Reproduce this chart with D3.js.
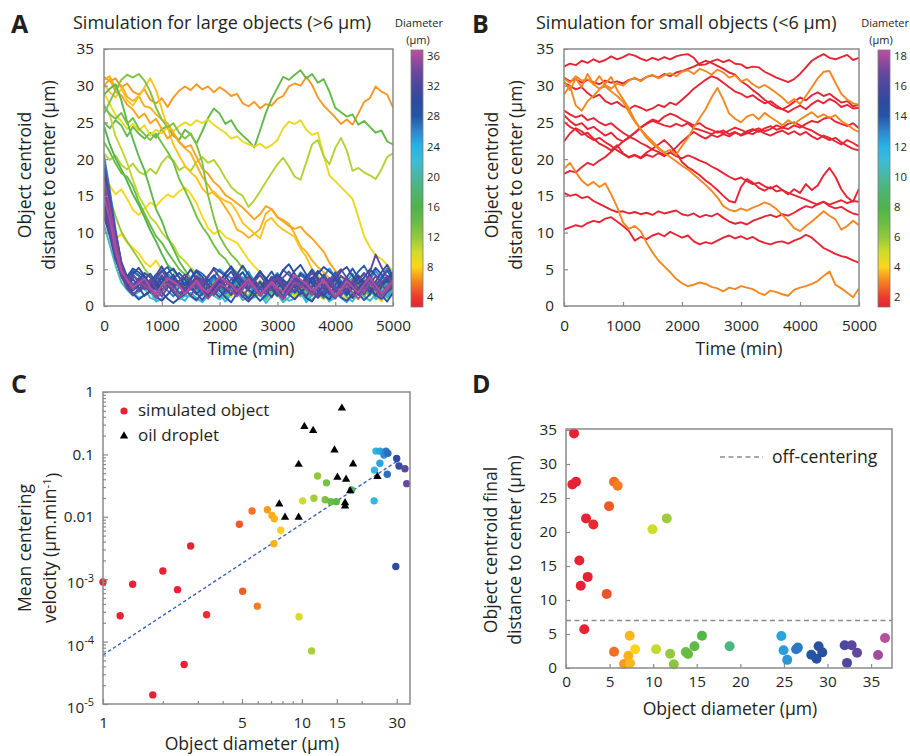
<!DOCTYPE html>
<html>
<head>
<meta charset="utf-8">
<script src="https://cdn.jsdelivr.net/npm/d3@7/dist/d3.min.js"></script>
<style>
html,body{margin:0;padding:0;background:#fff;}
svg{display:block;}
</style>
</head>
<body>
<svg id="chart" width="910" height="756" xmlns="http://www.w3.org/2000/svg"></svg>
<script>
// ================= DATA =================
const timeMin = d3.range(0, 5001, 100);
const timeTicks = [0, 1000, 2000, 3000, 4000, 5000];
const distTicks = [0, 5, 10, 15, 20, 25, 30, 35];
const cbarTicksA = [4, 8, 12, 16, 20, 24, 28, 32, 36];
const cbarTicksB = [2, 4, 6, 8, 10, 12, 14, 16, 18];

// ---- Panel A: large objects (distance to center, µm, every 100 min) ----
const largeA1 = [31.2,30.6,31.0,29.8,30.3,29.2,28.8,29.5,28.1,27.6, 28.3,27.1,28.4,29.3,29.9,29.4,30.2,29.5,29.9,29.1, 29.8,29.3,28.6,28.9,27.6,27.2,27.8,26.9,27.5,27.3, 28.2,28.6,29.9,30.3,30.0,31.2,30.1,28.4,27.3,26.5, 25.7,24.8,25.4,24.7,26.2,27.8,28.3,29.9,29.2,28.8, 27.0];
const largeA2 = [25.0,24.2,25.3,24.6,23.1,24.4,23.5,22.8,23.6,22.9, 24.1,24.5,23.2,22.6,24.0,23.4,22.1,23.8,25.6,26.9, 26.2,24.8,25.3,24.0,23.2,22.5,21.6,23.9,26.3,28.2, 29.7,31.2,30.8,31.5,32.1,31.0,31.6,30.4,30.9,29.2, 27.0,26.4,25.8,26.1,24.7,25.2,24.4,23.6,23.9,22.4, 22.0];
const largeA3 = [29.0,27.5,26.0,25.2,24.1,24.8,23.9,24.6,23.2,24.0, 23.5,24.4,23.8,24.5,25.0,24.6,25.3,24.9,25.4,24.7, 24.1,23.6,22.8,23.1,22.4,22.0,21.7,22.1,21.5,21.9, 22.6,24.2,25.1,24.8,25.3,24.0,23.3,23.6,20.5,17.8, 17.0,16.2,15.4,14.6,12.1,9.5,8.0,6.9,6.4,5.6, 4.7];
const largeA4 = [20.8,19.9,20.5,19.2,18.6,19.4,18.3,17.9,18.7,18.0, 19.5,20.4,19.8,18.5,19.0,18.4,19.6,20.3,19.5,19.9, 18.8,17.4,16.2,15.5,15.0,13.5,14.4,15.6,16.9,18.1, 19.3,20.2,19.0,17.6,17.2,19.6,22.0,22.6,20.4,19.3, 21.5,22.9,21.2,18.4,18.8,18.2,17.8,17.3,18.6,20.3, 20.8];
const largeA5 = [30.8,31.3,29.6,30.1,28.5,27.9,28.6,27.2,27.0,26.1, 25.4,24.9,23.6,22.3,21.5,20.8,19.2,17.6,16.5,15.3, 14.6,13.4,12.2,10.4,10.0,9.3,9.8,10.5,12.6,13.2, 12.1,11.7,11.2,9.8,8.1,7.4,6.2,5.3,4.6,3.8, 2.9,3.5,2.4,3.1,1.8,2.6,3.3,2.1,2.9,1.5, 2.3];
const largeA6 = [30.2,29.1,28.4,29.6,28.0,27.3,28.5,29.8,31.0,29.4, 26.8,24.3,22.0,20.5,19.1,18.2,17.5,16.0,15.2,15.6, 14.8,14.3,14.0,12.8,11.3,10.6,9.9,9.2,11.5,12.0, 11.0,10.4,9.9,9.4,7.8,6.7,5.0,4.2,3.1,3.8, 2.5,1.9,2.8,3.4,2.2,1.6,2.7,3.5,2.4,3.0, 2.0];
const largeA7 = [30.0,30.9,29.2,28.7,27.4,26.8,25.6,26.2,24.9,25.5, 24.1,22.8,23.5,22.4,21.6,21.9,20.3,18.7,18.0,16.9, 16.2,15.1,14.6,14.0,13.4,12.6,11.8,12.5,13.6,13.2, 12.1,11.5,10.9,10.5,10.8,9.9,9.2,8.3,7.4,5.9, 4.8,4.1,3.0,2.4,3.2,2.1,1.4,2.5,3.1,2.2, 1.7];
const largeA8 = [17.5,16.4,15.2,15.9,14.6,13.1,12.4,13.3,14.1,13.6, 14.5,15.2,14.8,15.6,16.1,15.3,14.0,12.2,10.6,9.8, 10.3,9.4,9.0,8.6,7.5,6.3,5.4,4.6,3.8,2.7, 3.4,1.9,2.6,1.2,2.0,3.1,2.4,1.5,0.9,1.8, 2.7,1.6,0.8,1.9,2.8,1.3,0.7,1.6,2.4,1.1, 1.8];
const largeA9 = [12.5,10.3,9.1,9.8,8.6,7.9,7.2,6.0,5.3,6.2, 4.9,4.1,3.2,2.5,3.6,2.8,1.9,2.6,1.4,2.2, 3.1,2.0,1.2,2.4,3.3,2.5,1.6,2.3,0.8,1.5, 2.6,3.4,2.1,1.3,2.2,1.0,1.7,2.5,3.3,2.0, 1.1,2.3,3.0,1.8,0.9,1.7,2.6,1.4,0.6,1.5, 2.2];
const largeA10 = [27.5,26.0,23.1,21.4,19.5,17.2,15.0,13.6,12.1,11.3, 10.0,9.1,8.3,6.8,6.1,5.2,4.4,3.6,2.8,3.5, 2.3,1.6,2.7,3.4,2.1,1.3,2.2,3.0,1.9,1.2, 2.5,3.2,2.4,1.5,2.8,3.6,2.2,1.4,2.1,3.0, 2.2,1.3,2.4,3.3,2.6,1.7,2.5,3.4,2.0,1.2, 2.6];
const largeA11 = [26.2,27.8,29.4,30.8,31.5,31.1,31.6,30.7,29.2,27.0, 25.4,24.3,24.9,23.6,22.8,23.5,22.0,19.6,15.1,12.0, 9.5,8.1,7.0,6.2,5.1,4.4,3.6,2.5,3.2,2.0, 1.3,2.4,3.1,1.8,2.6,1.5,0.8,1.9,2.7,1.6, 2.3,3.5,2.2,1.1,1.8,2.9,3.7,2.4,1.3,2.1, 3.2];
const largeA12 = [28.8,29.6,30.2,28.0,25.1,22.7,20.4,18.5,15.9,13.2, 11.6,9.4,7.8,6.1,4.9,3.7,2.6,3.3,2.1,1.4, 2.5,3.4,2.2,1.6,2.8,3.9,2.7,1.8,1.0,2.2, 3.0,2.3,1.5,2.6,3.5,2.4,1.6,2.8,1.9,1.1, 2.4,3.2,1.8,2.7,3.6,2.3,1.5,2.6,3.4,2.5, 1.7];
const largeA13 = [24.5,22.0,20.1,18.6,17.0,15.2,13.8,12.1,10.3,8.8, 7.1,5.6,4.8,3.9,3.0,2.2,3.1,1.9,2.6,3.5, 2.4,1.5,2.3,3.2,2.0,1.1,1.9,2.8,3.6,2.5, 1.7,2.6,1.4,2.2,3.1,2.0,2.9,3.7,2.5,1.6, 2.7,1.8,2.9,3.8,2.6,1.9,2.8,1.6,2.5,3.3, 2.4];
const largeA14 = [22.3,21.0,19.4,18.1,17.6,16.3,14.2,12.6,11.0,9.5, 8.6,7.3,6.2,5.0,4.3,3.5,2.6,3.3,2.2,1.5, 2.7,3.6,2.5,1.7,2.9,2.0,1.2,2.4,3.1,2.2, 1.4,2.6,3.4,2.1,1.3,2.5,3.3,2.4,1.5,2.6, 3.5,2.3,1.6,2.8,1.9,3.0,2.2,1.3,2.4,3.1, 2.0];
const largeA15 = [27.2,26.1,25.5,26.3,24.8,25.6,24.2,23.4,22.6,23.5, 22.2,21.0,19.6,17.3,15.8,14.1,12.2,10.8,9.7,8.3, 7.1,6.4,5.2,4.6,3.8,2.9,3.5,2.3,1.6,2.8, 3.6,2.5,1.8,2.9,2.1,3.2,2.4,1.5,2.6,3.5, 2.3,1.4,2.5,3.4,2.2,1.3,2.4,3.3,2.6,1.8, 2.9];
const largeA16 = [17.0,14.8,12.2,10.1,8.8,7.6,6.4,5.1,4.0,3.2, 2.5,3.3,2.1,1.4,2.6,3.4,2.3,1.5,2.4,3.2, 2.1,1.3,2.5,3.1,2.0,1.4,2.6,3.5,2.3,1.5, 2.7,1.9,2.8,3.6,2.4,1.6,2.5,3.3,2.1,1.2, 2.3,3.1,2.0,1.4,2.6,3.4,2.2,1.5,2.7,3.5, 2.3];
const largeF1 = [13.5,10.4,7.1,4.3,3.1,2.9,3.6,2.2,2.5,1.5, 2.8,3.4,3.1,1.9,1.3,2.5,3.9,3.2,2.6,1.9, 2.2,1.1,1.7,3.0,3.5,2.4,2.7,1.6,1.2,2.9, 3.3,2.0,2.4,3.6,2.6,1.7,1.4,2.2,3.4,2.8, 3.0,1.8,2.4,1.6,2.3,3.7,3.1,1.3,2.0,3.4, 2.2];
const largeF2 = [11.0,8.3,5.5,3.2,2.2,1.4,1.9,2.5,1.1,0.8, 1.9,2.7,2.2,0.9,1.4,1.3,0.7,2.1,2.6,1.4, 0.9,1.5,2.4,1.9,0.8,1.2,2.8,1.6,0.9,2.0, 1.6,0.5,1.2,2.5,1.7,0.8,1.9,2.7,2.1,0.7, 1.1,2.3,1.2,0.6,1.8,2.2,2.6,0.9,1.5,1.2, 1.9];
const largeF3 = [16.2,12.8,8.4,4.6,2.6,1.8,1.1,1.4,2.0,0.6, 1.0,1.5,2.4,1.2,0.7,1.8,1.1,0.5,1.4,2.2, 1.6,0.6,1.7,2.5,1.3,0.8,1.2,1.6,0.4,1.3, 2.1,1.4,0.7,1.0,1.9,0.5,1.5,2.3,1.7,0.6, 1.8,1.1,0.5,1.4,2.2,1.3,0.7,1.6,0.9,1.8, 1.4];
const largeF4 = [19.5,15.4,10.2,5.6,3.8,2.9,3.3,3.9,2.6,1.8, 3.0,4.1,3.6,2.7,1.9,3.2,2.3,1.4,2.6,3.7, 3.1,2.5,1.6,2.8,3.9,2.9,1.8,2.5,2.2,3.6, 2.4,1.5,2.7,3.8,3.3,2.6,1.7,2.9,2.0,1.3, 2.5,3.4,2.3,2.8,3.9,2.7,1.8,3.0,2.1,1.2, 2.7];
const largeF5 = [14.8,11.6,7.9,5.0,3.4,4.6,4.1,3.5,2.4,3.8, 4.9,4.4,3.6,2.5,3.1,3.7,4.8,3.4,2.6,3.9, 5.0,4.3,3.8,2.7,3.5,4.7,3.3,2.2,2.9,3.6, 4.5,3.2,2.3,3.4,4.6,4.0,3.7,2.8,4.0,5.1, 3.9,2.6,3.3,4.4,3.1,2.2,3.5,4.8,3.6,2.5, 3.8];
const largeF6 = [20.5,15.8,10.4,5.9,3.6,3.1,2.0,2.6,3.2,4.3, 3.0,2.1,1.3,2.6,3.8,3.3,2.7,1.6,2.9,4.0, 2.8,1.7,2.5,3.7,4.6,3.3,2.2,1.5,2.1,2.8, 3.9,2.6,1.8,3.1,4.2,3.6,3.0,1.9,1.1,2.4, 3.5,2.3,1.4,2.7,3.8,2.9,1.7,2.6,3.9,5.1, 3.7];
const largeF7 = [17.8,13.9,9.3,5.4,3.6,4.8,4.2,3.4,2.3,3.5, 4.7,5.3,3.9,2.7,3.2,3.8,4.9,4.4,3.6,2.5, 3.3,4.5,5.2,3.8,2.6,3.1,3.7,4.8,3.5,2.4, 3.6,4.9,4.2,3.7,2.6,3.9,5.0,3.8,2.8,3.5, 4.6,3.3,2.1,3.4,4.7,5.5,4.1,2.9,3.7,4.8, 3.6];
const largeF8 = [13.8,10.6,7.0,4.5,3.2,2.1,2.8,3.6,4.4,3.3, 2.2,2.9,3.7,4.5,3.6,2.4,1.6,2.5,3.4,4.2, 3.2,2.1,2.8,3.9,4.6,3.4,2.5,1.7,2.6,3.5, 4.3,3.6,2.7,1.8,2.9,4.0,4.8,3.5,2.4,3.1, 3.8,2.6,1.5,2.4,3.6,4.5,3.3,2.2,3.0,4.1, 3.2];
const largeF9 = [15.5,12.0,7.8,4.4,2.8,1.7,0.9,1.5,2.0,3.1, 1.9,1.0,0.4,1.1,1.6,2.7,1.8,0.8,1.9,3.0, 2.1,1.2,0.5,1.7,2.8,2.2,1.6,0.7,1.5,2.6, 1.8,0.9,2.0,3.2,2.2,1.1,0.6,1.8,2.9,1.9, 1.0,2.1,3.0,2.4,1.7,0.8,1.6,2.7,1.5,0.6, 1.8];
const largeF10 = [18.8,14.6,9.9,6.0,4.0,5.1,4.6,3.9,2.8,4.2, 5.4,4.0,2.9,3.4,3.8,5.0,3.7,2.5,3.9,5.2, 4.7,4.1,3.0,4.3,5.5,4.2,3.1,2.4,3.6,4.7, 3.4,2.3,3.5,4.8,5.6,4.3,3.1,4.4,5.3,4.7, 4.0,2.8,3.9,5.1,3.8,2.7,4.0,5.2,4.3,3.2, 4.5];
const largeF11 = [12.2,9.5,6.3,4.3,2.6,3.7,2.5,1.4,2.0,2.6, 3.8,2.9,1.8,1.1,2.3,3.4,2.8,2.2,1.3,2.5, 3.6,2.4,1.5,2.7,1.8,1.0,2.2,3.3,2.1,1.2, 2.4,3.5,3.0,2.6,1.6,2.8,3.9,2.7,1.5,0.9, 2.1,3.2,2.0,1.1,2.3,3.4,2.5,1.4,2.6,3.7, 2.4];
const largeF12 = [17.5,13.6,9.0,5.3,3.4,4.4,5.2,4.1,3.0,2.2, 3.3,4.5,5.1,3.9,2.8,3.6,4.7,4.0,2.9,2.1, 3.2,4.4,5.4,4.2,3.1,2.3,3.5,4.6,3.8,2.7, 3.4,4.9,5.7,4.4,3.2,2.5,3.7,4.8,3.9,2.8, 3.6,4.7,5.3,4.1,3.0,3.9,5.0,4.2,3.1,3.8, 4.6];
const largeF13 = [16.8,13.1,8.7,5.2,3.3,2.2,3.4,4.5,3.9,3.2, 2.0,3.1,4.3,3.0,1.9,2.8,4.0,3.5,2.9,1.7, 2.6,3.8,4.7,3.4,2.3,3.5,2.4,1.6,2.2,2.9, 4.1,3.1,2.0,3.2,4.4,3.8,3.3,2.1,1.4,2.7, 3.9,2.8,1.8,3.0,4.2,3.0,1.9,3.3,4.6,5.6, 4.0];
const largeF14 = [12.8,9.9,6.6,4.0,2.4,1.5,2.3,3.1,2.2,1.3, 0.7,1.6,2.5,3.3,2.4,1.4,0.8,1.7,2.6,1.9, 1.2,2.1,3.0,2.2,1.3,0.6,1.5,2.4,3.2,2.3, 1.4,2.2,1.6,0.9,1.8,2.7,2.0,1.1,2.0,2.9, 2.1,1.2,0.7,1.6,2.5,3.4,2.4,1.5,1.0,1.9, 2.6];
const largeF15 = [14.0,10.9,7.2,4.6,3.0,4.1,3.5,2.9,1.8,3.0, 4.2,3.1,2.0,1.2,1.8,2.4,3.6,2.5,1.5,2.7, 3.9,3.3,2.8,1.6,2.5,3.7,2.6,1.4,2.8,4.0, 3.4,2.9,1.7,3.0,2.2,1.3,2.6,3.8,2.7,1.6, 2.9,4.1,3.5,3.0,1.8,2.7,3.9,2.8,1.7,2.6, 3.8];
const largeF16 = [19.0,14.9,9.8,5.7,3.9,2.7,3.8,3.1,2.6,1.5, 2.7,3.9,2.8,1.7,2.3,3.0,4.1,2.9,1.8,2.6, 3.7,2.5,1.6,2.2,2.9,4.0,2.8,1.7,2.5,3.6, 2.4,1.3,2.6,3.8,3.2,2.7,1.9,3.1,4.3,3.2, 2.0,2.8,3.9,2.6,1.5,2.7,4.6,7.0,5.3,3.9, 3.4];
const largeF17 = [16.0,12.4,8.2,4.9,3.5,4.3,3.2,2.3,3.1,4.0, 4.8,3.7,2.6,3.4,4.3,3.3,2.4,3.2,4.1,5.0, 3.9,2.8,3.6,4.4,3.5,2.5,3.3,4.2,3.1,2.2, 3.0,3.9,4.7,3.6,2.6,3.5,4.5,3.4,2.5,3.3, 4.2,5.0,3.8,2.7,3.5,4.4,3.3,2.4,3.2,4.0, 3.1];
const largeF18 = [13.2,10.3,6.8,4.1,2.5,1.6,2.2,2.7,3.6,2.4, 1.3,2.5,3.4,2.9,2.3,1.4,2.6,3.7,2.6,1.5, 2.4,3.5,3.0,2.3,1.2,2.5,3.6,2.4,1.6,2.8, 3.9,2.7,1.8,2.2,2.6,3.5,2.2,1.4,2.7,3.8, 2.6,1.5,2.3,3.4,2.4,1.6,2.9,4.1,3.0,2.0, 2.9];
const largeF19 = [17.2,13.4,8.8,5.1,3.4,2.3,3.3,2.8,2.2,1.1, 2.0,3.1,2.2,1.2,1.8,2.4,3.2,2.0,1.0,1.9, 3.0,2.6,2.1,1.3,2.3,3.3,2.4,1.4,2.2,3.1, 1.9,0.9,2.1,3.2,2.7,2.3,1.5,2.6,3.4,2.2, 1.1,2.0,2.9,1.8,1.0,2.2,3.2,2.1,1.2,2.4, 3.3];
const largeF20 = [15.0,11.8,7.6,4.7,3.6,2.6,3.1,3.7,2.5,1.6, 2.8,3.8,3.3,2.7,1.7,2.6,3.5,2.4,1.8,3.0, 4.0,3.4,2.9,2.0,2.8,3.7,2.6,1.5,2.4,3.3, 2.5,1.9,3.1,4.2,3.6,3.0,2.1,2.7,3.6,2.5, 1.4,2.3,3.4,2.6,1.8,2.9,3.9,2.8,1.7,2.5, 3.5];
const largeSeries = [largeA1,largeA2,largeA3,largeA4,largeA5,largeA6,largeA7,largeA8,largeA9,largeA10,largeA11,largeA12,largeA13,largeA14,largeA15,largeA16,
  largeF1,largeF2,largeF3,largeF4,largeF5,largeF6,largeF7,largeF8,largeF9,largeF10,largeF11,largeF12,largeF13,largeF14,largeF15,largeF16,largeF17,largeF18,largeF19,largeF20];
const largeDiam = [6.6,14.5,8.8,11,7.2,7.6,6.9,8.2,8.0,10.5,13,15,16,14,13.5,12,
  19,21,23,24.5,25.5,26.5,27.5,28,28.5,29,29.5,30,31,31.5,32,33,33.5,34,35.5,36.5];

// ---- Panel B: small objects ----
const smallR1 = [32.6,33.0,32.8,33.4,33.1,33.6,33.2,33.5,34.0,33.6, 33.9,34.3,34.1,33.7,33.4,33.8,33.5,33.9,33.6,34.0, 34.2,34.3,33.8,32.8,32.9,33.3,33.6,33.2,33.5,33.0, 32.9,32.4,32.6,32.5,31.9,31.5,31.1,30.8,30.5,30.9, 31.6,32.5,33.4,33.9,34.3,33.8,33.6,33.9,34.2,33.5, 33.8];
const smallR2 = [31.1,30.6,30.9,30.4,30.8,30.5,30.2,30.7,30.4,30.6, 30.3,30.8,31.0,30.7,31.2,31.4,31.1,31.6,31.3,31.8, 32.0,32.3,32.6,33.0,33.4,33.1,32.7,32.3,31.8,31.5, 30.6,30.1,29.4,28.8,28.1,27.5,27.0,26.8,26.4,26.9, 27.3,26.8,27.5,28.0,27.6,28.2,27.8,27.1,27.4,26.9, 27.0];
const smallR3 = [30.4,30.0,29.5,29.8,29.0,28.4,28.8,27.9,27.5,27.8, 27.2,26.8,27.3,27.0,26.6,26.9,27.4,27.1,27.7,27.4, 28.1,28.8,29.6,30.2,30.8,31.3,31.0,30.4,29.8,29.2, 28.9,28.4,28.7,28.1,27.6,27.9,27.3,26.8,27.2,27.8, 28.4,28.0,28.7,29.1,28.6,28.9,28.3,27.7,27.9,27.2, 27.4];
const smallR4 = [26.0,25.2,24.6,24.9,24.1,24.4,23.8,23.2,23.6,22.8, 22.4,22.9,23.6,24.3,24.9,25.4,25.1,25.8,26.2,25.9, 25.4,25.0,24.6,24.9,24.3,24.0,23.6,23.9,23.4,23.7, 23.2,23.5,23.9,24.2,23.8,24.1,24.6,24.3,24.8,25.0, 24.6,24.2,23.9,23.4,23.0,22.6,22.9,22.3,21.8,21.4, 21.2];
const smallR5 = [25.1,24.4,24.0,23.3,23.6,22.8,22.1,21.7,21.2,21.9, 20.8,20.3,20.6,20.2,20.9,21.4,22.0,22.6,21.8,20.9, 19.6,18.9,18.4,17.8,17.1,16.5,15.8,15.0,14.3,14.1, 16.2,17.3,16.8,16.1,15.7,16.2,15.6,15.8,15.2,15.9, 15.4,16.6,15.8,16.4,17.8,18.8,17.6,15.9,14.8,14.2, 16.0];
const smallR6 = [22.4,23.5,24.2,23.8,23.1,22.6,22.9,22.3,21.8,21.2, 20.7,20.2,20.5,20.1,20.6,20.3,20.8,20.4,20.9,21.6, 22.4,23.1,23.7,23.2,22.8,23.3,23.0,23.4,23.1,23.6, 23.3,23.8,24.1,23.7,24.2,24.5,24.0,24.3,24.1,24.6, 24.3,24.8,25.2,25.0,25.5,25.7,25.1,24.8,24.5,24.9, 24.2];
const smallR7 = [18.0,18.4,18.2,18.9,19.5,19.2,19.8,20.3,21.0,21.7, 22.4,23.0,23.6,24.3,24.8,25.2,24.9,24.6,24.4,24.8, 24.5,24.9,24.2,24.0,23.7,23.4,23.8,23.5,23.9,24.3, 24.0,23.6,23.4,23.9,23.5,23.2,23.6,23.9,23.4,23.8, 23.3,23.7,23.1,22.7,23.2,22.9,22.4,22.0,22.6,22.2, 21.7];
const smallR8 = [26.6,26.1,25.7,26.0,25.3,25.6,25.0,24.6,24.9,24.2, 23.6,23.1,22.7,22.2,21.8,21.3,21.0,20.6,20.9,20.4, 20.1,20.5,20.2,19.8,19.5,19.0,18.6,18.1,17.6,17.2, 17.5,17.0,16.6,16.8,16.3,16.0,16.4,15.8,15.4,15.1, 14.8,14.5,14.1,13.8,14.2,13.6,13.3,13.5,13.0,12.6, 12.4];
const smallR9 = [15.4,15.0,15.2,14.7,14.9,14.3,13.9,13.5,13.1,12.8, 12.9,12.6,12.8,12.5,12.7,12.4,12.9,12.6,12.8,13.0, 12.5,12.3,12.6,12.1,12.4,12.2,12.6,12.0,11.5,11.2, 11.4,11.1,11.6,11.9,12.2,12.4,12.1,12.5,12.3,12.7, 13.2,13.6,13.4,13.9,14.2,13.8,14.1,14.4,14.0,14.3, 14.2];
const smallR10 = [10.4,10.7,11.0,10.8,11.3,11.6,11.4,11.9,12.1,11.5, 10.9,10.2,8.9,9.4,9.1,9.6,9.9,9.5,10.1,9.7, 9.3,9.6,8.8,8.4,8.7,8.5,8.9,9.3,9.6,9.2, 9.5,9.1,9.4,8.9,8.6,8.4,8.7,8.8,8.5,8.9, 9.2,9.7,9.3,8.6,7.9,7.5,7.1,6.8,6.6,6.2, 5.9];
const smallO1 = [30.6,29.4,31.0,29.8,31.6,30.2,31.3,30.1,29.6,30.3, 30.0,30.7,31.1,30.6,31.2,31.5,31.0,31.4,31.7,31.3, 31.9,32.1,31.6,32.3,32.0,31.5,32.2,31.8,31.1,31.4, 30.6,30.9,30.2,29.7,30.1,29.6,29.0,28.4,27.6,28.2, 27.5,28.6,29.8,31.0,31.9,32.0,30.4,28.9,28.1,27.6, 27.4];
const smallO2 = [28.8,30.0,27.3,26.6,27.9,28.6,29.5,30.3,31.2,29.4, 28.2,26.9,25.3,24.1,23.2,22.4,21.6,20.9,21.3,20.6, 21.8,22.9,24.3,25.6,26.8,28.4,29.7,28.1,26.2,25.5, 25.0,25.8,26.1,25.4,26.3,25.7,25.2,24.6,25.3,24.8, 25.4,25.9,26.4,25.7,26.1,25.6,26.0,25.2,24.7,24.1, 23.7];
const smallO3 = [31.0,30.4,31.3,30.7,30.9,30.2,29.6,29.9,29.2,28.6, 27.8,26.4,25.1,24.0,22.9,22.1,21.4,20.8,20.3,19.7, 19.1,18.6,17.9,17.2,16.5,15.7,14.8,13.6,13.1,12.9, 13.3,13.0,13.4,13.7,14.1,13.8,13.2,12.4,11.6,10.6, 10.2,10.9,11.5,12.2,12.9,12.3,11.8,10.4,10.9,11.6, 11.0];
const smallO4 = [18.7,19.5,18.2,17.1,16.4,16.9,16.2,16.7,15.2,13.5, 11.4,10.5,10.9,10.2,8.6,7.3,6.2,5.4,4.6,3.7, 3.1,2.7,2.9,3.2,3.0,2.6,2.4,2.0,2.5,2.3, 2.7,2.5,2.3,1.8,1.5,2.1,1.9,1.6,1.4,2.2, 2.5,2.7,3.0,3.4,4.1,4.7,2.9,2.4,1.8,1.2, 2.4];
const smallSeries = [smallR1,smallR2,smallR3,smallR4,smallR5,smallR6,smallR7,smallR8,smallR9,smallR10,smallO1,smallO2,smallO3,smallO4];
const smallDiam = [1.4,1.4,1.4,1.4,1.4,1.4,1.4,1.4,1.4,1.4,3.1,3.1,3.1,3.1];

// ---- Panel C: mean centering velocity ----
const simDiam = [1.0,1.22,1.41,1.78,2.0,2.37,2.56,2.76,3.32,4.85, 5.04,5.62,5.97,6.71,7.08,7.27,7.83,7.24,9.68,10.1, 11.2,11.5,12.0,13.1,13.3,14.0,14.9,17.8,23.1,23.2, 23.6,24.7,26.5,25.9,27.1,24.7,26.9,29.7,30.0,30.8, 33.0,33.7];
const simVel = [9.0e-4,2.6e-4,8.3e-4,1.4e-5,1.35e-3,6.8e-4,4.3e-5,3.4e-3,2.7e-4,7.6e-3, 6.4e-4,0.0124,3.7e-4,0.013,0.0105,9.3e-3,6.1e-3,3.7e-3,2.5e-4,0.018, 7.1e-5,0.0198,0.045,0.0188,0.035,0.0175,0.0175,0.027,0.018,0.056, 0.113,0.113,0.113,0.098,0.104,0.072,0.048,1.6e-3,0.086,0.065, 0.059,0.034];
const oilDiam = [15.9,10.3,11.4,14.6,9.64,18.1,15.1,16.7,17.5,24.0,7.7,8.23,9.64,16.5,16.5];
const oilVel = [0.55,0.28,0.24,0.117,0.069,0.070,0.043,0.040,0.026,0.044,0.016,0.0098,0.0098,0.0168,0.0149];
const fitDiam = [1, 30];
const fitVel = [6.1e-5, 0.077];
const xTicksC = [1, 5, 10, 15, 30];
const xMinorC = [2, 3, 4, 6, 7, 8, 9, 20];
const yTicksC = [1, 0.1, 0.01, 1e-3, 1e-4, 1e-5];
const yTickLabelsC = [['1'], ['0.1'], ['0.01'], ['10', '-3'], ['10', '-4'], ['10', '-5']];

// ---- Panel D: final distance ----
const finalDiam = [0.92,0.73,1.15,2.3,3.14,1.53,4.94,5.51,5.93,9.92, 11.56,1.69,2.49,4.67,2.1,5.51,7.31,6.66,7.16,7.35, 7.93,10.34,11.95,12.37,13.75,14.0,14.74,15.6,18.77,24.7, 24.96,25.38,26.4,26.6,28.14,28.75,28.98,29.4,31.97,32.77, 32.24,33.39,35.8,36.6];
const finalDist = [34.5,27.0,27.4,22.0,21.1,15.8,23.8,27.4,26.8,20.4, 22.0,12.1,13.4,10.9,5.7,2.4,4.75,0.6,1.8,0.7, 2.75,2.75,2.1,0.55,2.35,2.05,3.2,4.75,3.2,4.7, 2.6,1.2,2.75,3.0,1.95,1.35,3.2,2.3,3.35,3.35, 0.75,2.25,1.9,4.4];
const offCentering = 7;
const xTicksD = [0, 5, 10, 15, 20, 25, 30, 35];

// ================= STYLE =================
const FONT = "'Open Sans', 'Noto Sans', sans-serif";
const INK = '#231f20';
const FRAME = '#8a8a8a';
const cbarStops = [2.7, 4, 5, 6, 7, 8, 10, 12, 14, 16, 18, 20, 22, 24, 26, 28, 30, 32, 34, 36.8];
const cbarColors = ['#e62234','#ec3a2c','#f15c28','#f47f21','#f9a81f','#fdd61a','#cfdc2b','#93c83e','#68bc45','#4fb34a','#4db56f','#4ab79f','#3dbdd3','#27b3e9','#2f86cc','#2456a6','#2d4b9e','#4a479e','#6d479f','#bd4e9e'];
const colorA = d3.scaleLinear().domain(cbarStops).range(cbarColors).clamp(true);
const colorB = d3.scaleLinear().domain(cbarStops.map(v => v / 2)).range(cbarColors).clamp(true);

const svg = d3.select('#chart');
svg.append('rect').attr('width', 910).attr('height', 756).attr('fill', '#fff');
const defs = svg.append('defs');

function txt(x, y, s, size, opts = {}) {
  const t = svg.append('text').attr('x', x).attr('y', y)
    .attr('font-family', FONT).attr('font-size', size).attr('fill', INK).text(s);
  if (opts.anchor) t.attr('text-anchor', opts.anchor);
  if (opts.weight) t.attr('font-weight', opts.weight);
  return t;
}
function yLabel(x, yc, s, size) {
  return svg.append('text').attr('transform', `translate(${x},${yc}) rotate(-90)`)
    .attr('text-anchor', 'middle').attr('font-family', FONT).attr('font-size', size).attr('fill', INK).text(s);
}
function styleAxis(g, size) {
  g.select('.domain').remove();
  g.attr('font-family', FONT).attr('font-size', size);
  g.selectAll('.tick line').attr('stroke', FRAME).attr('stroke-width', 1.2);
  g.selectAll('.tick text').attr('fill', INK);
}
function frame(l, t, r, b) {
  svg.append('rect').attr('x', l).attr('y', t).attr('width', r - l).attr('height', b - t)
    .attr('fill', 'none').attr('stroke', FRAME).attr('stroke-width', 1.5);
}

const TICK = 15.3, LAB = 17.6;

function timePanel(o) {
  const x = d3.scaleLinear().domain([0, 5000]).range([o.left, o.right]);
  const y = d3.scaleLinear().domain([0, 35]).range([o.bottom, o.top]);
  defs.append('clipPath').attr('id', 'clip' + o.id).append('rect')
    .attr('x', o.left).attr('y', o.top).attr('width', o.right - o.left).attr('height', o.bottom - o.top);
  const line = d3.line().x((v, i) => x(timeMin[i])).y(v => y(v));
  svg.append('g').attr('clip-path', `url(#clip${o.id})`)
    .selectAll('path').data(o.series).join('path')
    .attr('d', line).attr('fill', 'none')
    .attr('stroke', (s, i) => o.color(o.diam[i]))
    .attr('stroke-width', 1.9).attr('stroke-linejoin', 'round');
  const gx = svg.append('g').attr('transform', `translate(0,${o.bottom})`)
    .call(d3.axisBottom(x).tickValues(timeTicks).tickFormat(d3.format('d')).tickSizeInner(-4).tickSizeOuter(0).tickPadding(14));
  styleAxis(gx, TICK);
  const gy = svg.append('g').attr('transform', `translate(${o.left},0)`)
    .call(d3.axisLeft(y).tickValues(distTicks).tickSizeInner(-4).tickSizeOuter(0).tickPadding(10));
  styleAxis(gy, TICK);
  frame(o.left, o.top, o.right, o.bottom);
}

function colorbar(o) {
  const grad = defs.append('linearGradient').attr('id', 'grad' + o.id)
    .attr('x1', 0).attr('y1', 1).attr('x2', 0).attr('y2', 0);
  const d0 = o.stops[0], d1 = o.stops[o.stops.length - 1];
  o.stops.forEach((v, i) => grad.append('stop').attr('offset', (v - d0) / (d1 - d0)).attr('stop-color', cbarColors[i]));
  svg.append('rect').attr('x', o.x).attr('y', o.top).attr('width', 12).attr('height', o.bottom - o.top)
    .attr('fill', `url(#grad${o.id})`).attr('stroke', '#7a7a7a').attr('stroke-width', 0.8);
  const s = d3.scaleLinear().domain([d0, d1]).range([o.bottom, o.top]);
  const g = svg.append('g').attr('transform', `translate(${o.x + 12},0)`)
    .call(d3.axisRight(s).tickValues(o.ticks).tickSize(0).tickPadding(4));
  styleAxis(g, 11.3);
  txt(o.labelX, 27, 'Diameter', 11, { anchor: o.anchor || 'middle' });
  txt(o.labelX2, 44, '(μm)', 11, { anchor: 'middle' });
}

// ---------- Panel A ----------
txt(11, 33, 'A', 25, { weight: 'bold' });
txt(73, 29, 'Simulation for large objects (>6 μm)', 18);
timePanel({ id: 'A', left: 104, right: 393, top: 49, bottom: 306, series: largeSeries, diam: largeDiam, color: colorA });
colorbar({ id: 'A', x: 411, top: 50, bottom: 307, stops: cbarStops, ticks: cbarTicksA, labelX: 419, labelX2: 418 });
yLabel(31, 175, 'Object centroid', LAB);
yLabel(55, 175, 'distance to center (μm)', LAB);
txt(251, 355, 'Time (min)', LAB, { anchor: 'middle' });

// ---------- Panel B ----------
txt(472, 33, 'B', 25, { weight: 'bold' });
txt(536, 29, 'Simulation for small objects (<6 μm)', 18);
timePanel({ id: 'B', left: 564, right: 859, top: 49, bottom: 306, series: smallSeries, diam: smallDiam, color: colorB });
colorbar({ id: 'B', x: 878, top: 50, bottom: 307, stops: cbarStops.map(v => v / 2), ticks: cbarTicksB, labelX: 909, labelX2: 881, anchor: 'end' });
yLabel(498, 175, 'Object centroid', LAB);
yLabel(522, 175, 'distance to center (μm)', LAB);
txt(739, 355, 'Time (min)', LAB, { anchor: 'middle' });

// ---------- Panel C ----------
(function () {
  const L = 103, R = 410, T = 392, B = 704;
  const x = d3.scaleLog().domain([1, 35]).range([L, R]);
  const y = d3.scaleLog().domain([1e-5, 1]).range([B, T]);
  txt(11, 393, 'C', 25, { weight: 'bold' });
  svg.append('path').datum(d3.zip(fitDiam, fitVel))
    .attr('d', d3.line().x(d => x(d[0])).y(d => y(d[1])))
    .attr('fill', 'none').attr('stroke', '#3d62c4').attr('stroke-width', 1.4).attr('stroke-dasharray', '3.5,2.5');
  svg.append('g').selectAll('circle').data(d3.zip(simDiam, simVel)).join('circle')
    .attr('cx', d => x(d[0])).attr('cy', d => y(d[1])).attr('r', 3.7).attr('fill', d => colorA(d[0]));
  svg.append('g').selectAll('path').data(d3.zip(oilDiam, oilVel)).join('path')
    .attr('transform', d => `translate(${x(d[0])},${y(d[1])})`)
    .attr('d', d3.symbol(d3.symbolTriangle, 30)).attr('fill', '#000');
  const gx = svg.append('g').attr('transform', `translate(0,${B})`)
    .call(d3.axisBottom(x).tickValues(xTicksC).tickFormat(d3.format('d')).tickSizeInner(-5).tickSizeOuter(0).tickPadding(13));
  styleAxis(gx, TICK);
  const gxm = svg.append('g').attr('transform', `translate(0,${B})`)
    .call(d3.axisBottom(x).tickValues(xMinorC).tickFormat('').tickSizeInner(-3).tickSizeOuter(0));
  styleAxis(gxm, TICK);
  const yMinor = [];
  [1e-5, 1e-4, 1e-3, 1e-2, 1e-1].forEach(e => { for (let k = 2; k <= 9; k++) yMinor.push(k * e); });
  const gy = svg.append('g').attr('transform', `translate(${L},0)`)
    .call(d3.axisLeft(y).tickValues(yTicksC).tickFormat('').tickSizeInner(-5).tickSizeOuter(0).tickPadding(9));
  styleAxis(gy, TICK);
  gy.selectAll('.tick text').each(function (d, i) {
    const lab = yTickLabelsC[i];
    const t = d3.select(this);
    if (lab.length === 1) { t.text(lab[0]); }
    else {
      t.attr('dy', '0.55em');
      t.append('tspan').text(lab[0]);
      t.append('tspan').attr('dy', '-0.6em').attr('font-size', 11).text(lab[1]);
    }
  });
  const gym = svg.append('g').attr('transform', `translate(${L},0)`)
    .call(d3.axisLeft(y).tickValues(yMinor).tickFormat('').tickSizeInner(-3).tickSizeOuter(0));
  styleAxis(gym, TICK);
  frame(L, T, R, B);
  svg.append('circle').attr('cx', 124).attr('cy', 411).attr('r', 3.6).attr('fill', colorA(1));
  txt(138, 416, 'simulated object', 17);
  svg.append('path').attr('transform', 'translate(124,436)').attr('d', d3.symbol(d3.symbolTriangle, 30)).attr('fill', '#000');
  txt(138, 441, 'oil droplet', 17);
  yLabel(31, 548, 'Mean centering', LAB);
  const t2 = svg.append('text').attr('transform', 'translate(56,548) rotate(-90)')
    .attr('text-anchor', 'middle').attr('font-family', FONT).attr('font-size', LAB).attr('fill', INK);
  t2.append('tspan').text('velocity (μm.min');
  t2.append('tspan').attr('dy', '-0.45em').attr('font-size', 11.5).text('-1');
  t2.append('tspan').attr('dy', '0.45em').text(')');
  txt(252, 750, 'Object diameter (μm)', LAB, { anchor: 'middle' });
})();

// ---------- Panel D ----------
(function () {
  const L = 566, R = 892, T = 429, B = 668;
  const x = d3.scaleLinear().domain([0, 37.4]).range([L, R]);
  const y = d3.scaleLinear().domain([0, 35]).range([B, 430]);
  txt(472, 393, 'D', 25, { weight: 'bold' });
  svg.append('line').attr('x1', L).attr('x2', R).attr('y1', y(offCentering)).attr('y2', y(offCentering))
    .attr('stroke', '#8a8a8a').attr('stroke-width', 1.5).attr('stroke-dasharray', '5,3.5');
  svg.append('g').selectAll('circle').data(d3.zip(finalDiam, finalDist)).join('circle')
    .attr('cx', d => x(d[0])).attr('cy', d => y(d[1])).attr('r', 5).attr('fill', d => colorA(d[0]));
  const gx = svg.append('g').attr('transform', `translate(0,${B})`)
    .call(d3.axisBottom(x).tickValues(xTicksD).tickSizeInner(-4).tickSizeOuter(0).tickPadding(8));
  styleAxis(gx, TICK);
  const gy = svg.append('g').attr('transform', `translate(${L},0)`)
    .call(d3.axisLeft(y).tickValues(distTicks).tickSizeInner(-4).tickSizeOuter(0).tickPadding(9));
  styleAxis(gy, TICK);
  frame(L, T, R, B);
  svg.append('line').attr('x1', 720).attr('x2', 763).attr('y1', 457).attr('y2', 457)
    .attr('stroke', '#8a8a8a').attr('stroke-width', 1.5).attr('stroke-dasharray', '5,3.5');
  txt(772, 463, 'off-centering', LAB);
  yLabel(497, 550, 'Object centroid final', LAB);
  yLabel(521, 550, 'distance to center (μm)', LAB);
  txt(730, 715, 'Object diameter (μm)', LAB, { anchor: 'middle' });
})();
</script>
</body>
</html>
